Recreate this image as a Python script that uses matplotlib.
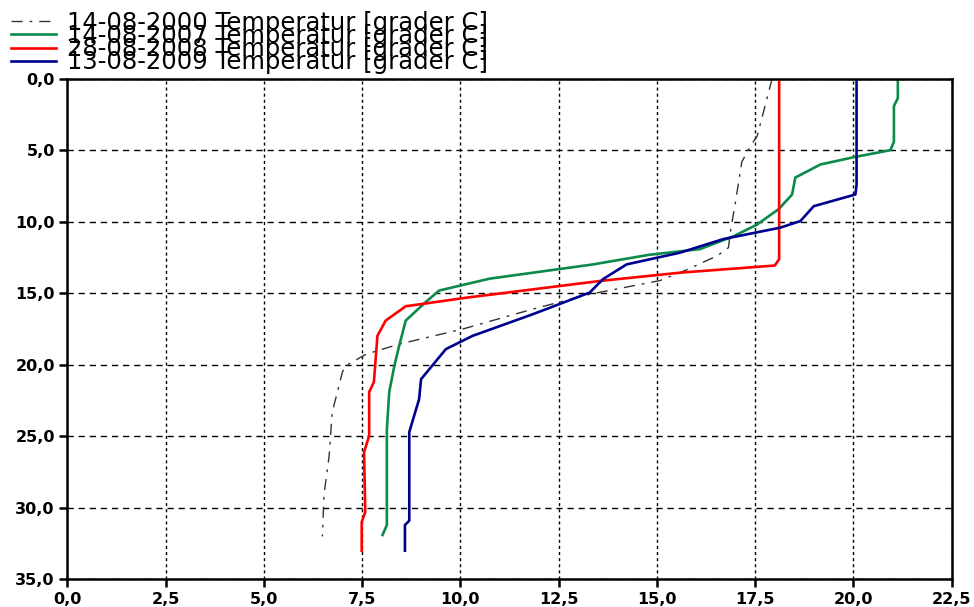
import matplotlib
matplotlib.use("Agg")
import matplotlib.pyplot as plt
from matplotlib.ticker import FuncFormatter, MultipleLocator

# depth profiles, temperature [C] vs depth [m]
temp_2000 = [17.93, 17.55, 17.4, 17.16, 17.0, 16.88, 16.82, 16.52, 16.27, 15.8, 15.08,
             13.29, 11.84, 10.05, 8.44, 7.6, 7.08, 7.0, 6.74, 6.66, 6.53, 6.49]
depth_2000 = [0, 4.0, 4.6, 5.8, 8.6, 10.5, 11.8, 12.4, 12.7, 13.3, 14.1,
              15.06, 16.1, 17.5, 18.55, 19.25, 20.07, 20.5, 23.3, 26.4, 29.1, 32.0]

temp_2007 = [21.13, 21.13, 21.03, 21.03, 20.94, 20.05, 19.16, 18.52, 18.44, 18.1, 17.54,
             16.95, 16.1, 14.8, 13.38, 10.74, 9.46, 9.12, 8.61, 8.44, 8.32, 8.19, 8.13, 8.13, 8.02]
depth_2007 = [0, 1.33, 1.9, 4.4, 4.98, 5.45, 5.98, 6.9, 8.08, 9.1, 10.2,
              11.0, 11.9, 12.3, 12.97, 13.97, 14.8, 15.6, 16.9, 18.7, 20.07, 21.9, 24.5, 31.2, 31.9]

temp_2008 = [18.11, 18.11, 18.0, 15.59, 13.55, 10.15, 8.61, 8.1, 7.89, 7.8, 7.68, 7.68,
             7.55, 7.58, 7.49, 7.49]
depth_2008 = [0, 12.6, 13.05, 13.55, 14.13, 15.3, 15.9, 16.9, 17.97, 21.2, 21.9, 24.96,
              26.1, 30.3, 31.0, 33.0]

temp_2009 = [20.08, 20.08, 20.05, 18.99, 18.65, 18.14, 16.69, 15.59, 14.23, 13.63, 13.29,
             11.84, 10.31, 9.63, 9.0, 8.95, 8.7, 8.7, 8.59, 8.59]
depth_2009 = [0, 7.4, 8.08, 8.9, 9.94, 10.4, 11.2, 12.15, 12.97, 14.0, 14.94,
              16.46, 17.97, 18.9, 21.0, 22.4, 24.7, 30.9, 31.2, 33.0]

labels = ["14-08-2000 Temperatur [grader C]",
          "14-08-2007 Temperatur [grader C]",
          "28-08-2008 Temperatur [grader C]",
          "13-08-2009 Temperatur [grader C]"]

fig = plt.figure(figsize=(9.74, 6.07), dpi=100)
ax = fig.add_axes([0.0691, 0.0456, 0.908, 0.8243])

ax.plot(temp_2000, depth_2000, color="#333333", lw=1.0, linestyle=(0, (8, 5, 2, 5)), label=labels[0])
ax.plot(temp_2007, depth_2007, color="#0b8a4a", lw=1.9, label=labels[1])
ax.plot(temp_2008, depth_2008, color="#ff0000", lw=1.9, label=labels[2])
ax.plot(temp_2009, depth_2009, color="#000090", lw=1.9, label=labels[3])

ax.set_xlim(0, 22.5)
ax.set_ylim(35, 0)
ax.xaxis.set_major_locator(MultipleLocator(2.5))
ax.yaxis.set_major_locator(MultipleLocator(5))
fmt = FuncFormatter(lambda v, p: f"{v:.1f}".replace(".", ","))
ax.xaxis.set_major_formatter(fmt)
ax.yaxis.set_major_formatter(fmt)

# grid: vertical dotted, horizontal dashed
ax.xaxis.grid(True, color="black", lw=1.0, linestyle=(0, (2.2, 2.2)))
ax.yaxis.grid(True, color="black", lw=1.0, linestyle=(0, (4.5, 3.5)))
ax.set_axisbelow(True)

for s in ax.spines.values():
    s.set_linewidth(1.8)
ax.tick_params(direction="out", length=6, width=1.8, pad=3)
for lab in ax.get_xticklabels() + ax.get_yticklabels():
    lab.set_fontfamily("DejaVu Sans")
    lab.set_fontweight("bold")
    lab.set_fontsize(11.5)

# entries overlap each other like in the original export
leg = fig.legend(loc="upper left", bbox_to_anchor=(0.006, 0.99), frameon=False,
                 prop={"family": "DejaVu Sans", "size": 17.5},
                 labelspacing=-0.45, handlelength=1.85, handletextpad=0.45,
                 borderpad=0.2, borderaxespad=0.0)

fig.savefig("out.png", dpi=100)
